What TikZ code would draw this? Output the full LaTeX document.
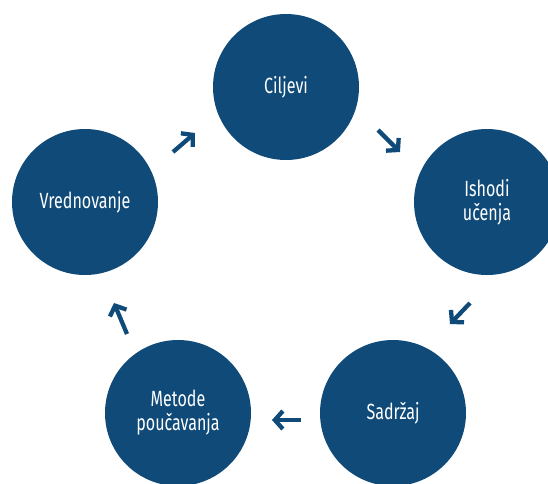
\documentclass[tikz,border=0pt]{standalone}
\usepackage{fontspec}
\setmainfont[FakeStretch=0.73]{Fira Sans}
\usepackage{tikz}
\usetikzlibrary{arrows.meta, calc}
\definecolor{krug}{HTML}{0F4A78}
\tikzset{
  korak/.style={circle, fill=krug, minimum size=146pt, inner sep=0pt,
    text=white, align=center, font=\fontsize{22}{24}\selectfont},
  strelica/.style={draw=krug, line width=4.3pt,
    -{Straight Barb[length=8pt, width=18pt]}}
}

\begin{document}
\begin{tikzpicture}[x=1pt, y=-1pt]
          \useasboundingbox (0,0) rectangle (548,483);
          \clip (0,0) rectangle (548,483);
          \node[korak] (ciljevi) at (286,87) {Ciljevi};
          \node[korak] (ishodi) at (487,202) {Ishodi\\učenja};
          \node[korak] (sadrzaj) at (393,413) {Sadržaj};
          \node[korak] (metode) at (178,413) {Metode\\poučavanja};
          \node[korak] (vrednovanje) at (85,202) {Vrednovanje};
          % strelice izmedju krugova
          \coordinate (s1) at (173,152); \coordinate (e1) at (195,133);
          \coordinate (s2) at (378,130); \coordinate (e2) at (400,152);
          \coordinate (s3) at (470,303); \coordinate (e3) at (450,324);
          \coordinate (s4) at (301,420); \coordinate (e4) at (272,420);
          \coordinate (s5) at (127,334); \coordinate (e5) at (114,303);
          \draw[strelica] (s1) -- (e1);
          \draw[strelica] (s2) -- (e2);
          \draw[strelica] (s3) -- (e3);
          \draw[strelica] (s4) -- (e4);
          \draw[strelica] (s5) -- (e5);
        \end{tikzpicture}
\end{document}
